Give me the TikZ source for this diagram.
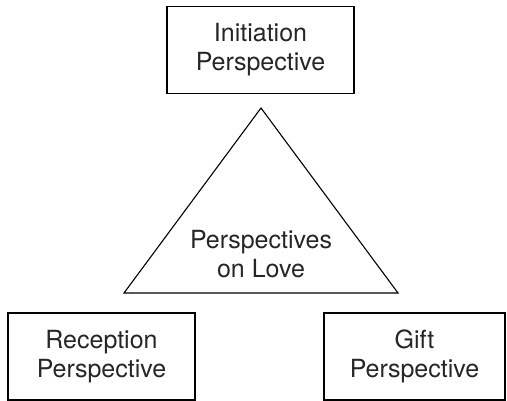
\documentclass[tikz,border=0pt]{standalone}
\usepackage{fontspec}
\setmainfont{TeX Gyre Heros}
\begin{document}
\begin{tikzpicture}[x=1pt,y=-1pt,line width=1.1pt,
    every node/.style={font=\fontsize{25}{29}\selectfont,text=black!85},
    persp/.style={draw,align=center,minimum width=187pt,minimum height=87pt,inner sep=0pt}]
    \useasboundingbox (0,0) rectangle (507,401);
    \node[persp] (init) at (260.5,50) {Initiation\\Perspective};
    \node[persp] (recep) at (101.5,356.5) {Reception\\Perspective};
    \node[persp,minimum width=181pt] (gift) at (414.5,356.5) {Gift\\Perspective};
    % the triangle in the middle
    \coordinate (apex) at (261,108);
    \coordinate (bl) at (124,293);
    \coordinate (br) at (398,293);
    \draw[line join=miter] (apex) -- (br) -- (bl) -- cycle;
    \node[align=center] (love) at (261,254) {Perspectives\\on Love};
\end{tikzpicture}
\end{document}
